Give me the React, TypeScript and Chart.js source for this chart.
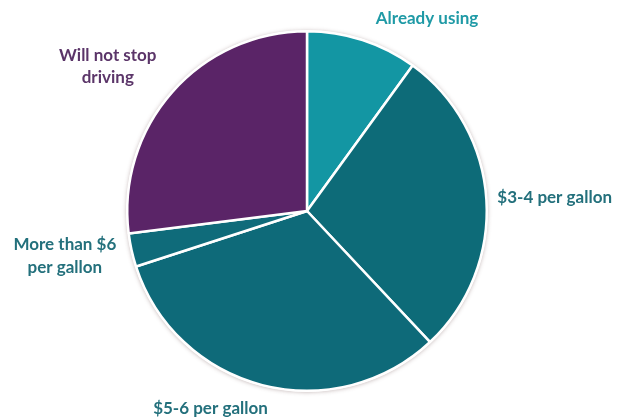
import React, { useEffect, useRef } from "react";
import { Chart, registerables } from "chart.js";

Chart.register(...registerables);

const categories = [
  "Already using",
  "$3-4 per gallon",
  "$5-6 per gallon",
  "More than $6 per gallon",
  "Will not stop driving",
];
const values = [10, 28, 32, 3, 27];
const labelLines = [
  ["Already using"],
  ["$3-4 per gallon"],
  ["$5-6 per gallon"],
  ["More than $6", "per gallon"],
  ["Will not stop", "driving"],
];

const sliceColors = ["#1396a3", "#0d6b78", "#0e6a79", "#0f6b7a", "#5a2467"];
const textColors = ["#1f9aa6", "#23707c", "#23707c", "#23707c", "#5b3569"];
// label placement: angle (deg clockwise from top) and distance in radius units
const labelPlace = [
  { a: 32, d: 1.26, lh: 22 },
  { a: 86.8, d: 1.38, lh: 22 },
  { a: 206, d: 1.225, lh: 22 },
  { a: 259.5, d: 1.37, lh: 23 },
  { a: 306, d: 1.37, lh: 22 },
];

const shadowPlugin = {
  id: "pieShadow",
  beforeDatasetsDraw(chart: any) {
    const meta = chart.getDatasetMeta(0);
    const arc = meta.data[0];
    if (!arc) return;
    const { x, y, outerRadius } = arc;
    const ctx = chart.ctx;
    ctx.save();
    ctx.beginPath();
    ctx.arc(x, y, outerRadius + 1, 0, Math.PI * 2);
    ctx.fillStyle = "#ffffff";
    ctx.shadowColor = "rgba(120,90,90,0.45)";
    ctx.shadowBlur = 4;
    ctx.shadowOffsetX = 0;
    ctx.shadowOffsetY = 0.5;
    ctx.fill();
    ctx.restore();
  },
};

const labelPlugin = {
  id: "outerLabels",
  afterDatasetsDraw(chart: any) {
    const meta = chart.getDatasetMeta(0);
    const ctx = chart.ctx;
    ctx.save();
    ctx.font = "bold 17px Lato, 'Open Sans', sans-serif";
    ctx.textAlign = "center";
    ctx.textBaseline = "middle";
    meta.data.forEach((arc: any, i: number) => {
      const { x, y, outerRadius } = arc;
      const p = labelPlace[i];
      const ang = (p.a * Math.PI) / 180;
      const cx = x + Math.sin(ang) * outerRadius * p.d;
      const cy = y - Math.cos(ang) * outerRadius * p.d;
      const lines = labelLines[i];
      ctx.fillStyle = textColors[i];
      lines.forEach((t: string, j: number) => {
        ctx.fillText(t, cx, cy + (j - (lines.length - 1) / 2) * p.lh);
      });
    });
    ctx.restore();
  },
};

export default function App() {
  const ref = useRef<HTMLCanvasElement>(null);
  useEffect(() => {
    if (!ref.current) return;
    const chart = new Chart(ref.current, {
      type: "pie",
      data: {
        labels: categories,
        datasets: [
          {
            data: values,
            backgroundColor: sliceColors,
            borderColor: "#ffffff",
            borderWidth: 2.5,
          },
        ],
      },
      options: {
        animation: false,
        responsive: true,
        maintainAspectRatio: false,
        layout: { padding: { top: 30, bottom: 26, left: 126, right: 131 } },
        plugins: {
          legend: { display: false },
          tooltip: { enabled: false },
        },
      },
      plugins: [shadowPlugin, labelPlugin],
    });
    return () => chart.destroy();
  }, []);
  return (
    <div style={{ position: "absolute", left: 0, top: 0, width: 619, height: 418, background: "#fff" }}>
      <canvas ref={ref} />
    </div>
  );
}
